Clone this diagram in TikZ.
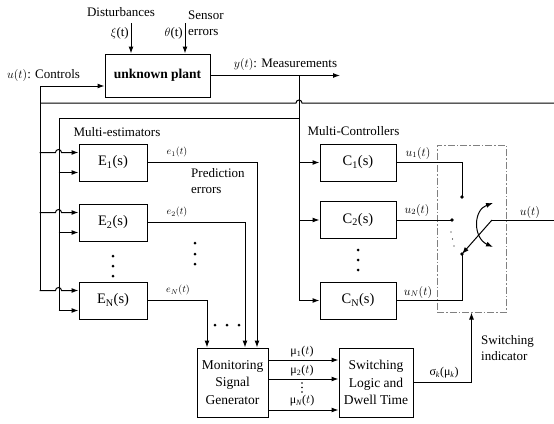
\documentclass[tikz,border=0pt]{standalone}
\usepackage{fontspec}
\setmainfont{Liberation Serif}
\usetikzlibrary{arrows.meta}
\tikzset{
  wire/.style={line width=1pt},
  arr/.style={wire, -{Latex[length=7pt,width=5pt]}},
  blk/.style={draw, line width=1pt, inner sep=0pt, align=center},
  tf/.style={blk, minimum width=68pt, minimum height=37pt, font=\fontsize{14.5}{16}\selectfont},
  lbl/.style={inner sep=0pt, font=\fontsize{13}{16}\selectfont},
  sig/.style={inner sep=0pt, font=\fontsize{10}{12}\selectfont},
  usig/.style={inner sep=0pt, font=\fontsize{12}{14}\selectfont},
}
\begin{document}
\begin{tikzpicture}[x=1pt, y=-1pt]
\useasboundingbox (0,0) rectangle (554,423);
% plant and its inputs
\node[blk, minimum width=105pt, minimum height=43pt, font=\fontsize{13.5}{15}\selectfont\bfseries] (plant) at (157.5,75.5) {unknown plant};
\coordinate (din) at (131,23);
\coordinate (sin) at (185,23);
\draw[arr] (din) -- (din |- plant.north);
\draw[arr] (sin) -- (sin |- plant.north);
\node[lbl] (dist) at (121,12) {Disturbances};
\node[lbl, anchor=east] (xi) at (129,33) {$\xi$(t)};
\node[lbl, anchor=east] (th) at (183,33) {$\theta$(t)};
\node[lbl, anchor=west] (sens) at (188,15) {Sensor};
\node[lbl, anchor=west] (serr) at (188,33) {errors};
\node[lbl, anchor=west] (uctl) at (7,75) {$u(t)$: Controls};
\node[lbl] (ymeas) at (285.5,64) {$y(t)$: Measurements};

% feedback of u(t) and y(t)
\coordinate (ucorner) at (40,103);
\coordinate (uret) at (554,103);
\coordinate (ytap) at (299,75.5);
\coordinate (yend) at (340,75.5);
\coordinate (yl) at (59,118);
\draw[arr] (plant) -- (yend);
\draw[wire] (uret) -- (302,103) arc[start angle=0, end angle=180, radius=3pt] -- (ucorner);
\draw[arr] (ucorner) |- ([yshift=-10.5pt]plant.west);
\draw[wire] (ucorner) -- (40,290.5);
\draw[wire] (ytap |- yl) -- (yl) -- (59,310.5);

% multi-estimators
\node[lbl] (mest) at (117,132) {Multi-estimators};
\node[tf] (E1) at (113,162.5) {E\textsubscript{1}(s)};
\node[tf] (E2) at (113,222.5) {E\textsubscript{2}(s)};
\node[tf] (EN) at (113,300.5) {E\textsubscript{N}(s)};
\foreach \b in {E1,E2,EN}{
  \draw[arr] ([yshift=10pt]\b.west) ++(-39pt,0) -- ++(16pt,0) arc[start angle=180, end angle=0, radius=3pt] -- ([yshift=10pt]\b.west);
  \draw[arr] ([yshift=-10pt]\b.west) ++(-20pt,0) -- ([yshift=-10pt]\b.west);
}
\foreach \y in {256,266,276} \fill (113,\y) circle (1.5pt);

% monitoring and switching logic
\node[blk, minimum width=71pt, minimum height=69pt, font=\fontsize{13.5}{17.5}\selectfont] (mon) at (232.5,382.5) {Monitoring\\Signal\\Generator};
\node[blk, minimum width=74pt, minimum height=69pt, font=\fontsize{13.5}{17.5}\selectfont] (swl) at (376,382.5) {Switching\\Logic and\\Dwell Time};
\draw[arr] (E1) -| ([xshift=24.5pt]mon.north);
\draw[arr] (E2) -| ([xshift=12.5pt]mon.north);
\draw[arr] (EN) -| ([xshift=-25.5pt]mon.north);
\node[sig] (e1l) at (177,152) {$e_1(t)$};
\node[sig] (e2l) at (177,212) {$e_2(t)$};
\node[sig] (eNl) at (178,290) {$e_N(t)$};
\node[lbl, align=left, anchor=west] (perr) at (191,181) {Prediction\\errors};
\foreach \y in {243,254,264} \fill (195,\y) circle (1.5pt);
\foreach \x in {215,227,239} \fill (\x,325) circle (1.5pt);

\draw[arr] ([yshift=22.5pt]mon.east) -- ([yshift=22.5pt]swl.west);
\draw[arr] ([yshift=3.5pt]mon.east) -- ([yshift=3.5pt]swl.west);
\draw[arr] ([yshift=-27.5pt]mon.east) -- ([yshift=-27.5pt]swl.west);
\node[usig] (mu1) at (302,352) {μ\textsubscript{1}($t$)};
\node[usig] (mu2) at (302,371) {μ\textsubscript{2}($t$)};
\node[usig] (muN) at (302,401) {μ\textsubscript{\itshape N}($t$)};
\foreach \y in {383,387.5,392} \fill (302,\y) circle (0.8pt);

% multi-controllers
\node[lbl] (mctl) at (353.5,131) {Multi-Controllers};
\node[tf, minimum width=76pt] (C1) at (358,162.5) {C\textsubscript{1}(s)};
\node[tf, minimum width=76pt] (C2) at (358,220) {C\textsubscript{2}(s)};
\node[tf, minimum width=76pt] (CN) at (358,300.5) {C\textsubscript{N}(s)};
\draw[arr] (ytap |- C1) -- (C1);
\draw[arr] (ytap |- C2) -- (C2);
\draw[arr] (ytap) |- (CN);
\foreach \y in {250,260,270} \fill (358,\y) circle (1.5pt);

% switch
\node[draw, gray, line width=1pt, dash pattern=on 7pt off 2pt on 1.5pt off 2pt, minimum width=69pt, minimum height=167pt, inner sep=0pt] (swbox) at (471.5,228.5) {};
\coordinate (k1) at (462,197);
\coordinate (k2) at (452,220);
\coordinate (kN) at (462,254);
\coordinate (piv) at (492,220);
\coordinate (uout) at (554,220);
\coordinate (rot1) at (493,203);
\coordinate (rot2) at (493,247);
\draw[wire] (C1) -| (k1);
\draw[wire] (C2) -- (k2);
\draw[wire] (CN) -| (kN);
\fill (k1) circle (1.8pt);
\fill (k2) circle (1.8pt);
\fill (kN) circle (1.8pt);
\foreach \p in {(451,232),(452.5,239),(454,246)} \fill \p circle (0.6pt);
\draw[wire] (uout) -- (piv);
\draw[arr] (piv) -- (kN);
\draw[wire, {Latex[length=7pt,width=5pt]}-{Latex[length=7pt,width=5pt]}] (rot1) .. controls (473,210) and (473,238) .. (rot2);
\node[usig] (u1l) at (418,153) {$u_1(t)$};
\node[usig] (u2l) at (417,210) {$u_2(t)$};
\node[usig] (uNl) at (418,292) {$u_N(t)$};
\node[usig] (uol) at (530,212) {$u(t)$};

% switching signal
\draw[arr] (swl) -| (swbox.south);
\node[usig] (sigl) at (444,373) {σ\textsubscript{\itshape k}(μ\textsubscript{\itshape k})};
\node[lbl, align=left, anchor=west] (swind) at (481,348) {Switching\\indicator};
\end{tikzpicture}
\end{document}
